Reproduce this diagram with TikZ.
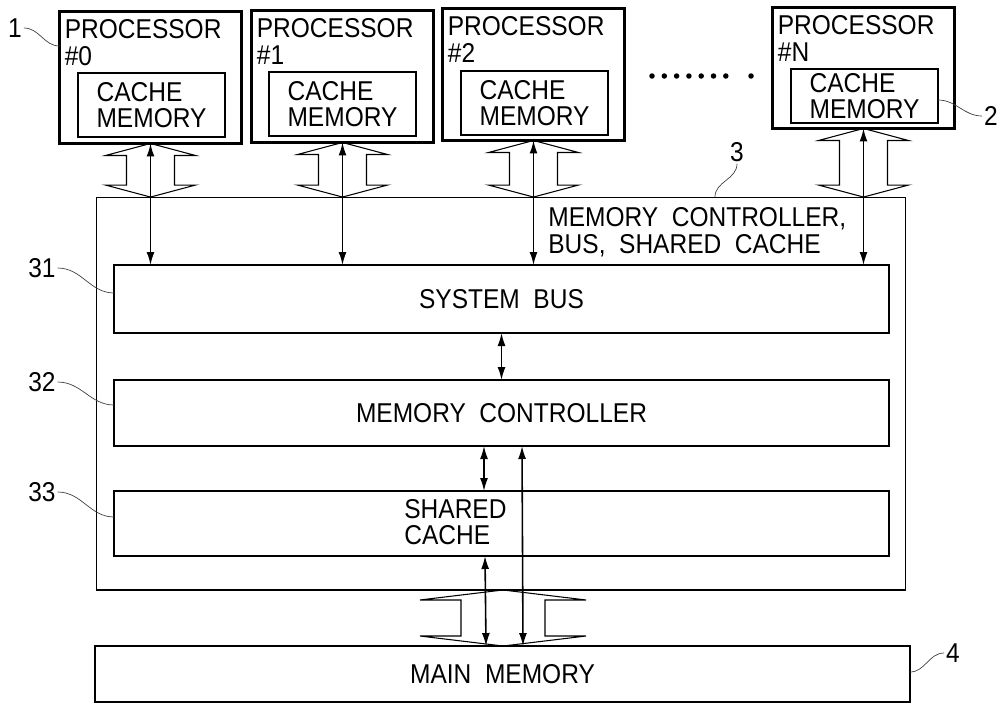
\documentclass[tikz,border=0pt]{standalone}
\usepackage{fontspec}
\setmainfont{Liberation Sans}[FakeStretch=0.9]
\usetikzlibrary{arrows.meta,positioning,calc}

\begin{document}
\begin{tikzpicture}[x=0.02cm, y=-0.02cm,
  font=\fontsize{15.5}{15.2}\selectfont,
  procbox/.style={rectangle, draw, line width=1.4pt, minimum width=3.64cm, minimum height=#1, inner sep=0pt, outer sep=0pt},
  procbox/.default=2.64cm,
  cachebox/.style={rectangle, draw, line width=0.9pt, minimum width=2.94cm, minimum height=#1, align=left, inner sep=0pt, outer sep=0pt},
  cachebox/.default=1.28cm,
  unitbox/.style={rectangle, draw, line width=1.1pt, minimum width=15.5cm, minimum height=#1, inner sep=0pt, outer sep=0pt},
  plain/.style={align=left, inner sep=0pt},
  reftag/.style={inner sep=1pt},
  dbl/.style={{Latex[length=2.6mm,width=1.6mm]}-{Latex[length=2.6mm,width=1.6mm]}, line width=0.9pt},
  hollow/.style={line width=0.6pt, line join=miter},
  lead/.style={line width=0.4pt, black!75}
]
  \useasboundingbox (0,0) rectangle (999,704);

  % processors with their caches
  \node[procbox] (p0) at (150.5,77.5) {};
  \node[procbox] (p1) at (342.5,76.5) {};
  \node[procbox] (p2) at (533.5,74.5) {};
  \node[procbox=2.42cm] (pn) at (863.5,68) {};
  \node[plain, anchor=north west] (p0txt) at ([shift={(0.1cm,-0.16cm)}]p0.north west) {PROCESSOR\\\#0};
  \node[plain, anchor=north west] (p1txt) at ([shift={(0.1cm,-0.16cm)}]p1.north west) {PROCESSOR\\\#1};
  \node[plain, anchor=north west] (p2txt) at ([shift={(0.1cm,-0.16cm)}]p2.north west) {PROCESSOR\\\#2};
  \node[plain, anchor=north west] (pntxt) at ([shift={(0.1cm,-0.16cm)}]pn.north west) {PROCESSOR\\\#N};
  \node[cachebox] (c0) at (151.5,105) {CACHE\\MEMORY};
  \node[cachebox] (c1) at (342.5,104) {CACHE\\MEMORY};
  \node[cachebox] (c2) at (534.5,103) {CACHE\\MEMORY};
  \node[cachebox=1.08cm] (cn) at (864.5,96) {CACHE\\MEMORY};
  \foreach \i in {0,...,6}
    \fill (652+12.3*\i,76) circle [radius=0.055cm];
  \fill (751,76) circle [radius=0.055cm];

  % memory controller, bus, shared cache
  \node[rectangle, draw, line width=0.6pt, minimum width=16.2cm, minimum height=7.86cm, inner sep=0pt, outer sep=0pt] (ctrl) at (501,393.5) {};
  \node[plain, anchor=north west] (ctrltxt) at (548,207) {MEMORY\ \ CONTROLLER,\\BUS,\ \ SHARED\ \ CACHE};
  \node[unitbox=1.36cm] (bus) at (501.5,299) {SYSTEM\ \ BUS};
  \node[unitbox=1.32cm] (mc) at (501.5,413) {MEMORY\ \ CONTROLLER};
  \node[unitbox=1.3cm] (sc) at (501.5,523.5) {};
  \node[plain, anchor=west] (sctxt) at (404,522) {SHARED\\CACHE};
  \node[unitbox=1.12cm, minimum width=16.3cm] (mm) at (502.5,674) {MAIN\ \ MEMORY};

  % processor connections
  \foreach \p in {p0,p1,p2,pn} {
    \draw[hollow] (\p.south) -- ++(-45,12) -- ++(21,0) -- ($(\p.south |- ctrl.north)+(-24,-12)$) -- ++(-21,0)
      -- (\p.south |- ctrl.north) -- ++(45,-12) -- ++(-21,0) -- ($(\p.south)+(24,12)$) -- ++(21,0) -- cycle;
    \draw[dbl] (\p.south) -- (\p.south |- bus.north);
  }

  % main memory connection
  \coordinate (ht) at ($(ctrl.south)+(2,0)$);
  \coordinate (hb) at (ht |- mm.north);
  \draw[hollow] (ht) -- ++(-83,10) -- ++(41,0) -- ($(hb)+(-42,-10)$) -- ++(-41,0)
    -- (hb) -- ++(83,-10) -- ++(-41,0) -- ($(ht)+(42,10)$) -- ++(41,0) -- cycle;
  \draw[dbl] (bus.south) -- (mc.north);
  \draw[dbl] ([xshift=-0.35cm]mc.south) -- ([xshift=-0.35cm]sc.north);
  \draw[dbl] ([xshift=0.41cm]mc.south) -- ([xshift=0.41cm]mm.north);
  \draw[dbl] ([xshift=-0.33cm]sc.south) -- ([xshift=-0.33cm]mm.north);

  % reference numerals
  \node[reftag] (t1) at (15,28) {1};
  \node[reftag] (t2) at (991,116) {2};
  \node[reftag] (t3) at (737,152) {3};
  \node[reftag] (t31) at (42,268) {31};
  \node[reftag] (t32) at (42,382) {32};
  \node[reftag] (t33) at (42,492) {33};
  \node[reftag] (t4) at (953,653) {4};
  \draw[lead] (t1.east) to[out=0,in=180] ([yshift=0.63cm]p0.west);
  \draw[lead] ([yshift=-0.08cm]cn.east) to[out=0,in=180] (t2.west);
  \draw[lead] (t3.south) to[out=-90,in=90] ([xshift=4.28cm]ctrl.north);
  \draw[lead] (t31.east) to[out=0,in=180] ([yshift=0.12cm]bus.west);
  \draw[lead] (t32.east) to[out=0,in=180] ([yshift=0.16cm]mc.west);
  \draw[lead] (t33.east) to[out=0,in=180] ([yshift=0.13cm]sc.west);
  \draw[lead] ([yshift=0.04cm]mm.east) to[out=0,in=180] (t4.west);
\end{tikzpicture}
\end{document}
